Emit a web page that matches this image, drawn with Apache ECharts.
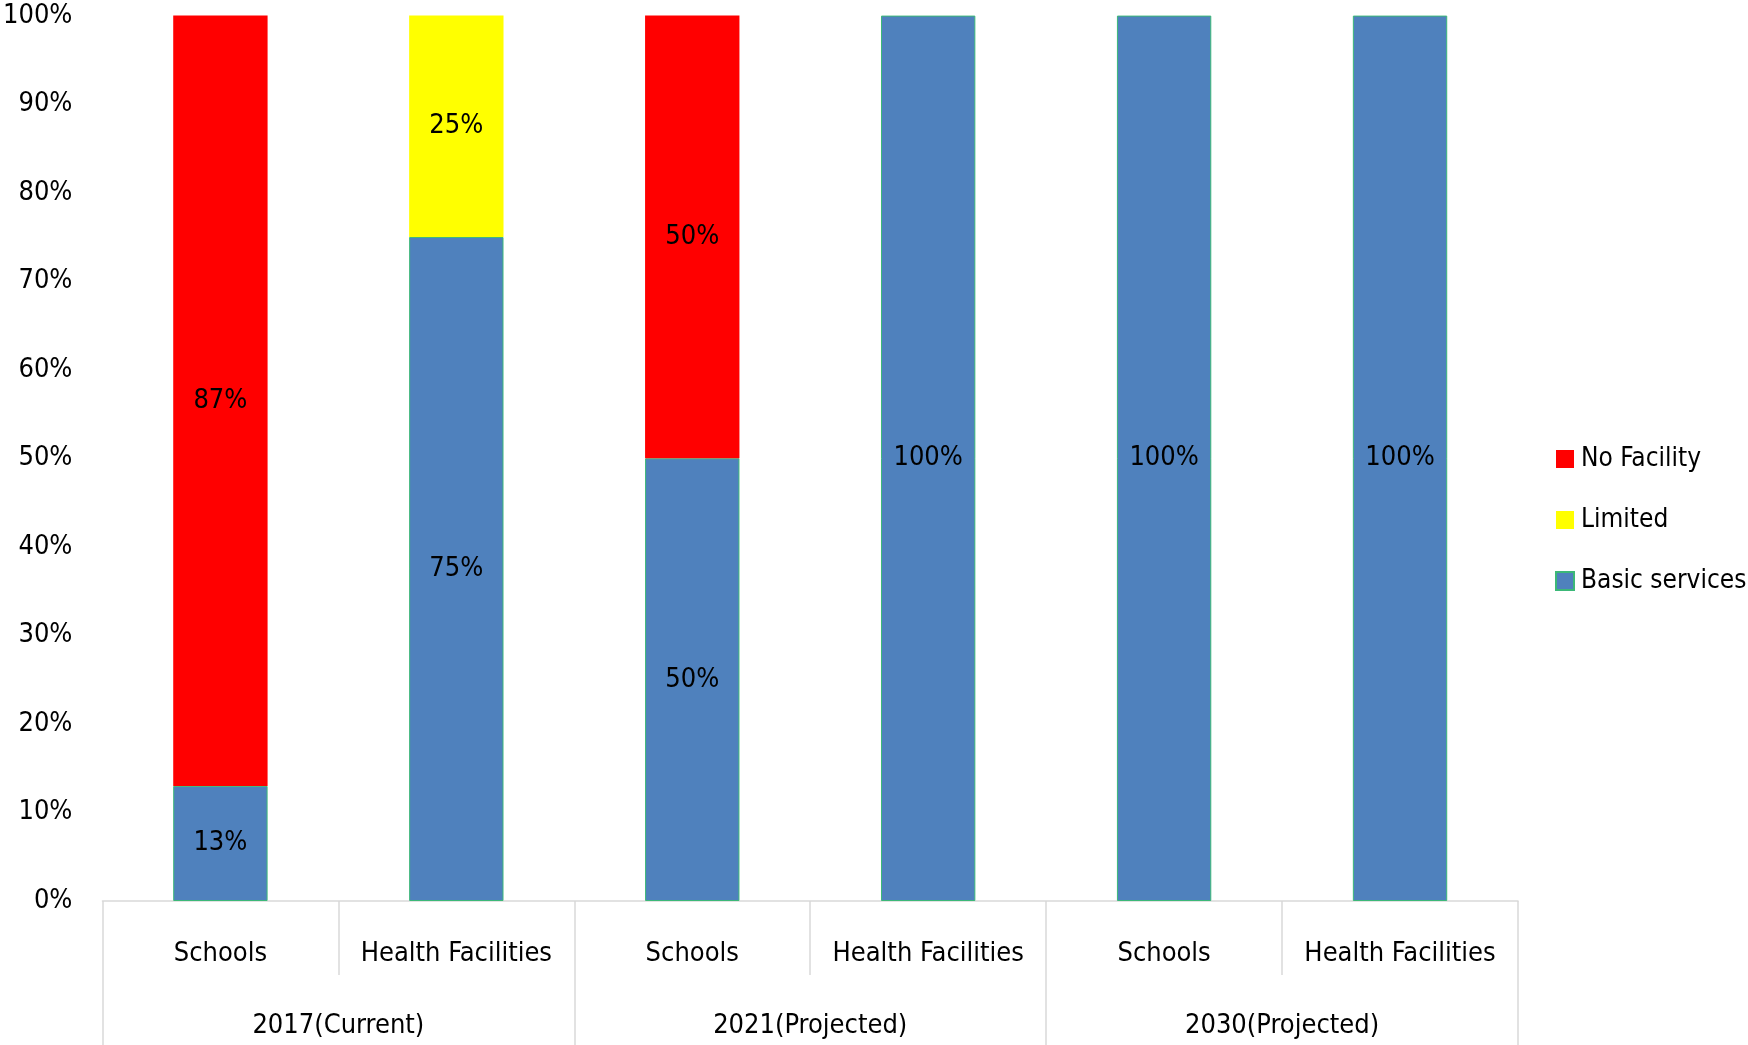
<!DOCTYPE html>
<html>
<head>
<meta charset="utf-8">
<script src="https://cdn.jsdelivr.net/npm/echarts@6/dist/echarts.min.js"></script>
<style>html,body{margin:0;padding:0;background:#fff}#c{width:1748px;height:1045px}</style>
</head>
<body>
<div id="c"></div>
<script>
const categories = ['Schools','Health Facilities','Schools','Health Facilities','Schools','Health Facilities'];
const groups = ['2017(Current)','2021(Projected)','2030(Projected)'];
const basicServices = [13, 75, 50, 100, 100, 100];
const limited = [null, 25, null, null, null, null];
const noFacility = [87, null, 50, null, null, null];
const yTicks = {min: 0, max: 100, interval: 10};

const FONT = "'DejaVu Sans Condensed', Lato, sans-serif";
const FS = 27;
const chart = echarts.init(document.getElementById('c'), null, {renderer: 'canvas'});
const lbl = {show: true, position: 'inside', color: '#000', fontSize: FS, fontFamily: FONT, formatter: p => p.value + '%'};
chart.setOption({
  animation: false,
  textStyle: {fontFamily: FONT},
  grid: {left: 100, right: 230, top: 15.6, bottom: 144, containLabel: false},
  legend: {
    orient: 'vertical', left: 1550, top: 441, itemWidth: 18, itemHeight: 18, itemGap: 35,
    icon: 'rect',
    textStyle: {fontSize: 26, color: '#000', fontFamily: FONT, padding: [0,0,0,2]},
    data: ['No Facility','Limited','Basic services']
  },
  xAxis: [
    {type: 'category', data: categories, position: 'bottom',
     axisLine: {show: true, lineStyle: {color: '#d9d9d9', width: 1.5}},
     axisTick: {show: true, length: 74, alignWithLabel: false, lineStyle: {color: '#d9d9d9', width: 1.5}},
     axisLabel: {margin: 39, fontSize: FS, color: '#000', interval: 0}},
    {type: 'category', data: groups, position: 'bottom', gridIndex: 0,
     axisLine: {show: false},
     axisTick: {show: true, length: 150, alignWithLabel: false, lineStyle: {color: '#d9d9d9', width: 1.5}},
     axisLabel: {margin: 111, fontSize: FS, color: '#000', interval: 0}}
  ],
  yAxis: {type: 'value', min: yTicks.min, max: yTicks.max, interval: yTicks.interval,
    axisLine: {show: false}, axisTick: {show: false}, splitLine: {show: false},
    axisLabel: {formatter: '{value}%', fontSize: FS, color: '#000', margin: 30}},
  series: [
    {name: 'Basic services', type: 'bar', stack: 's', data: basicServices, barWidth: '40%',
     itemStyle: {color: '#4F81BD', borderColor: '#3cb878', borderWidth: 1}, label: lbl},
    {name: 'Limited', type: 'bar', stack: 's', data: limited,
     itemStyle: {color: '#FFFF00'}, label: lbl},
    {name: 'No Facility', type: 'bar', stack: 's', data: noFacility,
     itemStyle: {color: '#FF0000'}, label: lbl}
  ]
});
</script>
</body>
</html>
